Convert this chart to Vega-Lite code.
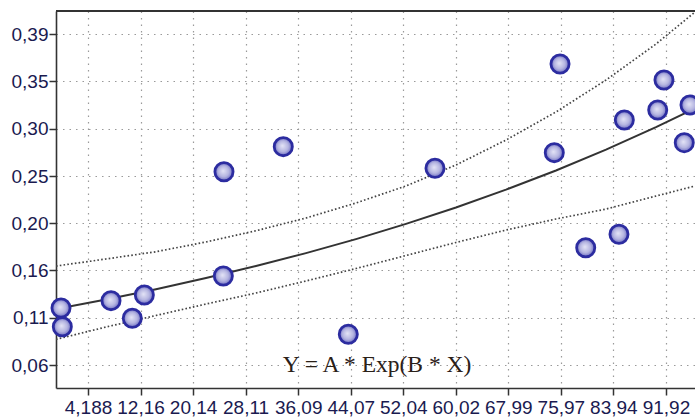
{
  "$schema": "https://vega.github.io/schema/vega-lite/v6.json",
  "width": 639,
  "height": 377,
  "autosize": "none",
  "padding": {"left": 56, "top": 11, "right": 0, "bottom": 32},
  "background": "white",
  "config": {
    "view": {"stroke": null},
    "axis": {
      "labelFont": "Liberation Sans",
      "labelFontSize": 19,
      "labelColor": "#1a1a50",
      "domainColor": "#333333",
      "domainWidth": 1.6,
      "tickColor": "#333333",
      "tickWidth": 1.5,
      "tickSize": 7,
      "gridColor": "#9a9a9a",
      "gridDash": [1.5, 5],
      "gridWidth": 1.2,
      "title": null,
      "labelOverlap": false,
      "labelFlush": false
    }
  },
  "datasets": {
    "points": [
      {"x": 0.09, "y": 0.1173},
      {"x": 0.29, "y": 0.0985},
      {"x": 7.68, "y": 0.1247},
      {"x": 10.91, "y": 0.1070},
      {"x": 12.74, "y": 0.1304},
      {"x": 24.73, "y": 0.1495},
      {"x": 24.83, "y": 0.2543},
      {"x": 33.83, "y": 0.2795},
      {"x": 43.70, "y": 0.0909},
      {"x": 56.86, "y": 0.2578},
      {"x": 74.97, "y": 0.2735},
      {"x": 75.84, "y": 0.3626},
      {"x": 79.74, "y": 0.1779},
      {"x": 84.79, "y": 0.1915},
      {"x": 85.60, "y": 0.3063},
      {"x": 90.67, "y": 0.3164},
      {"x": 91.62, "y": 0.3465},
      {"x": 94.70, "y": 0.2835},
      {"x": 95.57, "y": 0.3214}
    ],
    "curves": [
      {"x": -0.67, "fit": 0.1164, "upper": 0.1595, "lower": 0.0858},
      {"x": 6.92, "fit": 0.1259, "upper": 0.1666, "lower": 0.0982},
      {"x": 14.51, "fit": 0.1362, "upper": 0.1739, "lower": 0.1098},
      {"x": 22.10, "fit": 0.1474, "upper": 0.1837, "lower": 0.1213},
      {"x": 29.69, "fit": 0.1595, "upper": 0.1950, "lower": 0.1324},
      {"x": 37.28, "fit": 0.1725, "upper": 0.2078, "lower": 0.1445},
      {"x": 44.87, "fit": 0.1866, "upper": 0.2229, "lower": 0.1570},
      {"x": 52.46, "fit": 0.2019, "upper": 0.2400, "lower": 0.1701},
      {"x": 60.05, "fit": 0.2184, "upper": 0.2611, "lower": 0.1832},
      {"x": 67.64, "fit": 0.2363, "upper": 0.2862, "lower": 0.1957},
      {"x": 75.23, "fit": 0.2556, "upper": 0.3144, "lower": 0.2068},
      {"x": 82.82, "fit": 0.2765, "upper": 0.3465, "lower": 0.2168},
      {"x": 90.41, "fit": 0.2992, "upper": 0.3827, "lower": 0.2299},
      {"x": 96.33, "fit": 0.3180, "upper": 0.4149, "lower": 0.2400}
    ],
    "label": [
      {"x": 48.06, "y": 0.06, "text": "Y = A * Exp(B * X)"}
    ],
    "frame": [
      {"y": 0.4159}
    ]
  },
  "layer": [
    {
      "data": {"name": "curves"},
      "mark": {"type": "line", "color": "#444444", "strokeWidth": 1.7, "strokeDash": [1.6, 2.2], "clip": true},
      "encoding": {
        "x": {
          "field": "x", "type": "quantitative",
          "scale": {"domain": [-0.67, 96.33], "nice": false, "zero": false},
          "axis": {
            "orient": "bottom",
            "values": [4.188, 12.16, 20.14, 28.11, 36.09, 44.07, 52.04, 60.02, 67.99, 75.97, 83.94, 91.92],
            "labelExpr": "replace(format(datum.value, '.4r'), '.', ',')",
            "labelPadding": 3,
            "grid": true
          }
        },
        "y": {
          "field": "upper", "type": "quantitative",
          "scale": {"domain": [0.0369, 0.4159], "nice": false, "zero": false},
          "axis": {
            "values": [0.06, 0.1076, 0.1551, 0.2024, 0.25, 0.2976, 0.3451, 0.3924],
            "labelExpr": "replace(format(datum.value, '.2f'), '.', ',')",
            "labelPadding": 1,
            "grid": true
          }
        }
      }
    },
    {
      "data": {"name": "curves"},
      "mark": {"type": "line", "color": "#444444", "strokeWidth": 1.7, "strokeDash": [1.6, 2.2], "clip": true},
      "encoding": {
        "x": {"field": "x", "type": "quantitative"},
        "y": {"field": "lower", "type": "quantitative"}
      }
    },
    {
      "data": {"name": "curves"},
      "mark": {"type": "line", "color": "#333333", "strokeWidth": 2, "clip": true},
      "encoding": {
        "x": {"field": "x", "type": "quantitative"},
        "y": {"field": "fit", "type": "quantitative"}
      }
    },
    {
      "data": {"name": "frame"},
      "mark": {"type": "rule", "color": "#333333", "strokeWidth": 2},
      "encoding": {
        "y": {"field": "y", "type": "quantitative"}
      }
    },
    {
      "data": {"name": "points"},
      "mark": {
        "type": "point",
        "shape": "circle",
        "filled": true,
        "size": 330,
        "opacity": 1,
        "fill": {
          "gradient": "radial",
          "x1": 0.45, "y1": 0.45, "r1": 0,
          "x2": 0.5, "y2": 0.5, "r2": 0.5,
          "stops": [
            {"offset": 0, "color": "#e4e4f6"},
            {"offset": 0.6, "color": "#b4b4e0"},
            {"offset": 1, "color": "#6a6ac0"}
          ]
        },
        "stroke": "#2c2ca0",
        "strokeWidth": 2.8
      },
      "encoding": {
        "x": {"field": "x", "type": "quantitative"},
        "y": {"field": "y", "type": "quantitative"}
      }
    },
    {
      "data": {"name": "label"},
      "mark": {"type": "text", "font": "Liberation Serif", "fontSize": 23.5, "color": "#2a2018", "baseline": "middle", "align": "center"},
      "encoding": {
        "x": {"field": "x", "type": "quantitative"},
        "y": {"field": "y", "type": "quantitative"},
        "text": {"field": "text"}
      }
    }
  ]
}
